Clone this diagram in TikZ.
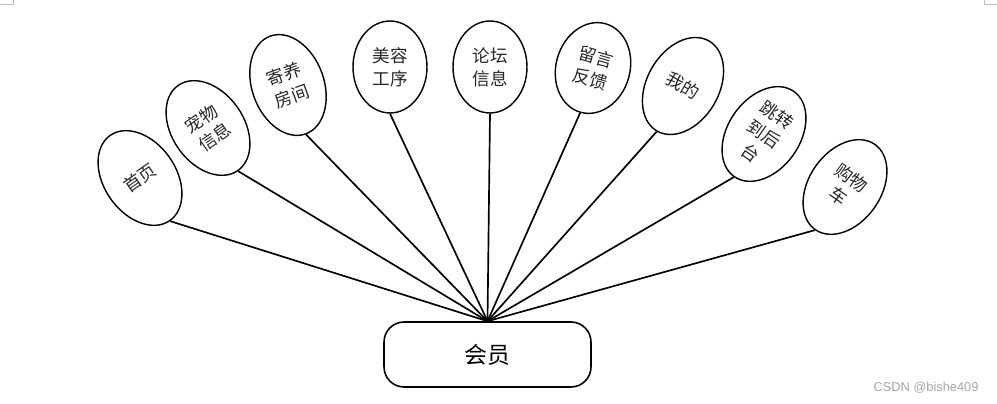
\documentclass[tikz,border=0pt]{standalone}
\usepackage{fontspec}
\newfontfamily\cjk{Noto Sans CJK SC}
\newfontfamily\wmfont{Liberation Sans}
\usetikzlibrary{shapes.geometric}

\begin{document}
\begin{tikzpicture}[x=0.02cm,y=-0.02cm,line width=0.95pt,
  attr/.style={ellipse,draw,line width=0.8pt,inner sep=0pt,minimum width=1.48cm,
    minimum height=1.84cm,align=center,text=black!85,font=\cjk\fontsize{10}{13}\selectfont},
  tilt/.style={attr,minimum width=1.44cm,minimum height=2.08cm},
  entity/.style={rectangle,draw,rounded corners=0.4cm,line width=0.9pt,minimum width=4.14cm,
    minimum height=1.3cm,font=\cjk\fontsize{13}{15}\selectfont}]

  \useasboundingbox (0,0) rectangle (997,404);

  % Member entity
  \node[entity] (hy) at (487.5,354.5) {会员};

  % Attributes, left to right
  \node[tilt,rotate=35] (sy) at (140,178) {首页};
  \node[tilt,rotate=35] (cw) at (208,128) {宠物\\信息};
  \node[tilt,rotate=20] (jy) at (288,85) {寄养\\房间};
  \node[attr] (mr) at (390,67) {美容\\工序};
  \node[attr] (lt) at (490,67) {论坛\\信息};
  \node[attr,rotate=-16] (ly) at (593,68) {留言\\反馈};
  \node[tilt,rotate=-30] (wd) at (683,86) {我的};
  \node[tilt,rotate=-35] (tz) at (764,134) {跳转\\到后\\台};
  \node[tilt,rotate=-35] (gw) at (845,187) {购物\\车};

  % Links to the entity
  \draw (sy.south) -- (hy.north);
  \draw (cw.south) -- (hy.north);
  \draw (jy.south) -- (hy.north);
  \draw (mr.south) -- (hy.north);
  \draw (lt.south) -- (hy.north);
  \draw (ly.south) -- (hy.north);
  \draw (wd.south) -- (hy.north);
  \draw (tz.south) -- (hy.north);
  \draw (gw.south) -- (hy.north);

  % Page marks and watermark
  \draw[gray!50,line width=0.4pt] (0,4) -- (13,4) -- (13,0);
  \draw[gray!50,line width=0.4pt] (984,0) -- (984,4) -- (997,4);
  \node[text=gray!70,font=\wmfont\fontsize{7.3}{9}\selectfont] (wm) at (926,388) {CSDN @bishe409};

\end{tikzpicture}
\end{document}
